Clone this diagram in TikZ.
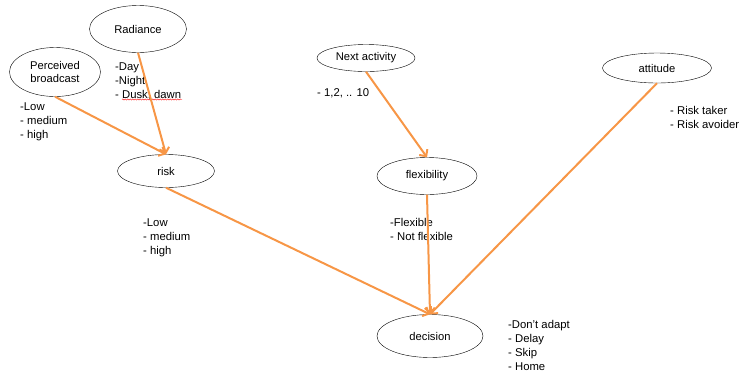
\documentclass[tikz,border=0pt]{standalone}
\usepackage{fontspec}
\setmainfont{Liberation Sans}
\usepackage{xcolor}
\usetikzlibrary{shapes.geometric}
\usetikzlibrary{arrows.meta}
\usetikzlibrary{decorations.pathmorphing}
\definecolor{linkorange}{RGB}{247,150,70}

\begin{document}
\begin{tikzpicture}[x=1pt,y=-1pt,
        var/.style={draw,ellipse,thin,inner sep=0pt,align=center,font=\fontsize{11.2}{13}\selectfont},
        vals/.style={anchor=north west,inner sep=0pt,align=left,font=\fontsize{11.3}{14}\selectfont},
        link/.style={-{Straight Barb[length=5pt,width=10pt]},draw=linkorange,line width=2pt}]
        \useasboundingbox (0,0) rectangle (742,376);

        \node[var,minimum width=97,minimum height=47] (radiance) at (138,29) {Radiance};
        \node[var,minimum width=91,minimum height=49] (broadcast) at (55,72) {Perceived\\broadcast};
        \node[var,minimum width=97,minimum height=33] (risk) at (166,171) {risk};
        \node[var,minimum width=98,minimum height=27] (next) at (366,58) {Next activity};
        \node[var,minimum width=100,minimum height=37] (flex) at (427,176) {flexibility};
        \node[var,minimum width=109,minimum height=30] (attitude) at (657,68) {attitude};
        \node[var,minimum width=106,minimum height=43] (decision) at (430,336) {decision};

        \node[vals] (broadcastvals) at (20,102.5) {-Low\\- medium\\- high};
        \node[vals] (radiancevals) at (115,62.5) {-Day\\-Night\\- Dusk, dawn};
        \node[vals] (nextvals) at (317,88.5) {- 1,2, .. 10};
        \node[vals] (attitudevals) at (670,106.5) {- Risk taker\\- Risk avoider};
        \node[vals] (riskvals) at (143,218.5) {-Low\\- medium\\- high};
        \node[vals] (flexvals) at (390,218.5) {-Flexible\\- Not flexible};
        \node[vals] (decisionvals) at (508,320.5) {-Don't adapt\\- Delay\\- Skip\\- Home};

        \draw[red,thin,decorate,decoration={snake,amplitude=0.6,segment length=2.5}] (122,99.5)--(182,99.5);

        \draw[link] (broadcast.south)--(risk.north);
        \draw[link] (radiance.south)--(risk.north);
        \draw[link] (next.south)--(flex.north);
        \draw[link] (risk.south)--(decision.north);
        \draw[link] (flex.south)--(decision.north);
        \draw[link] (attitude.south)--(decision.north);
    \end{tikzpicture}
\end{document}
